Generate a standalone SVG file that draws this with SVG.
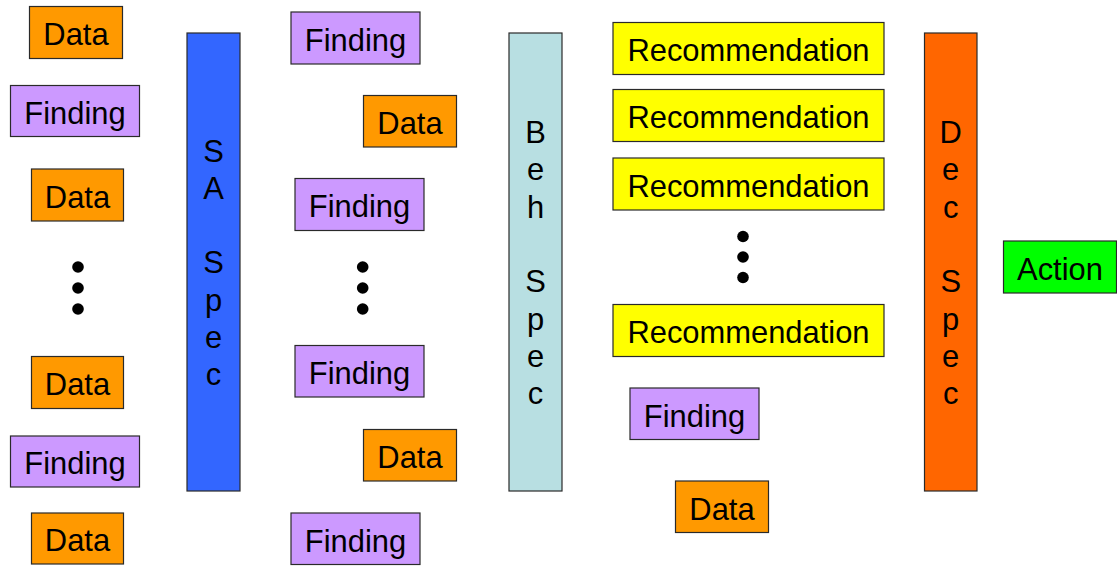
<svg xmlns="http://www.w3.org/2000/svg" width="1117" height="566" viewBox="0 0 1117 566">
<style>
rect{stroke:#2a2a2a;stroke-width:1.2}
.data{fill:#FF9900}.find{fill:#CC99FF}.rec{fill:#FFFF00}.act{fill:#00FF00}
.sa{fill:#3366FF}.beh{fill:#B8DFE2}.dec{fill:#FF6600}
text{font-family:"Liberation Sans",Arial,sans-serif;font-size:30.9px;fill:#000;text-anchor:middle}
.dot{fill:#000}
</style>
<rect width="1117" height="566" fill="#fff" style="stroke:none"/>
<!-- column 1 -->
<g id="c1-data1"><rect class="data" x="29.5" y="6.5" width="93" height="52"/><text x="76" y="45">Data</text></g>
<g id="c1-find1"><rect class="find" x="10.5" y="85.5" width="129" height="51"/><text x="75" y="123.5">Finding</text></g>
<g id="c1-data2"><rect class="data" x="31.5" y="169" width="92" height="52"/><text x="77.5" y="207.5">Data</text></g>
<g id="c1-dots"><circle class="dot" cx="78" cy="267" r="5.8"/><circle class="dot" cx="78" cy="288" r="5.8"/><circle class="dot" cx="78" cy="309" r="5.8"/></g>
<g id="c1-data3"><rect class="data" x="31.5" y="356.5" width="92" height="52"/><text x="77.5" y="395">Data</text></g>
<g id="c1-find2"><rect class="find" x="10.5" y="436" width="129" height="51"/><text x="75" y="474">Finding</text></g>
<g id="c1-data4"><rect class="data" x="31.5" y="513" width="92" height="51"/><text x="77.5" y="551">Data</text></g>
<!-- SA Spec -->
<g id="sa-spec"><rect class="sa" x="187" y="33" width="53" height="458"/>
<text x="213.5" y="161.5">S</text><text x="213.5" y="198.8">A</text><text x="213.5" y="273.4">S</text><text x="213.5" y="310.7">p</text><text x="213.5" y="348">e</text><text x="213.5" y="385.3">c</text></g>
<!-- column 2 -->
<g id="c2-find1"><rect class="find" x="291" y="12" width="129" height="52"/><text x="355.5" y="50.5">Finding</text></g>
<g id="c2-data1"><rect class="data" x="363.5" y="95.5" width="93" height="51.5"/><text x="410" y="134">Data</text></g>
<g id="c2-find2"><rect class="find" x="295" y="178.5" width="129" height="52"/><text x="359.5" y="217">Finding</text></g>
<g id="c2-dots"><circle class="dot" cx="362.7" cy="267" r="5.8"/><circle class="dot" cx="362.7" cy="288" r="5.8"/><circle class="dot" cx="362.7" cy="309" r="5.8"/></g>
<g id="c2-find3"><rect class="find" x="295" y="345.5" width="129" height="51.5"/><text x="359.5" y="384">Finding</text></g>
<g id="c2-data2"><rect class="data" x="363.5" y="429.5" width="93" height="51.5"/><text x="410" y="468">Data</text></g>
<g id="c2-find4"><rect class="find" x="291" y="513" width="129" height="51.5"/><text x="355.5" y="551.5">Finding</text></g>
<!-- Beh Spec -->
<g id="beh-spec"><rect class="beh" x="509" y="33" width="53" height="458"/>
<text x="535.5" y="142.7">B</text><text x="535.5" y="180">e</text><text x="535.5" y="217.5">h</text><text x="535.5" y="292.2">S</text><text x="535.5" y="329.6">p</text><text x="535.5" y="367">e</text><text x="535.5" y="404.4">c</text></g>
<!-- column 3 -->
<g id="rec1"><rect class="rec" x="613" y="22.5" width="271" height="52"/><text x="748.5" y="61">Recommendation</text></g>
<g id="rec2"><rect class="rec" x="613" y="89.5" width="271" height="52"/><text x="748.5" y="128">Recommendation</text></g>
<g id="rec3"><rect class="rec" x="613" y="158" width="271" height="52"/><text x="748.5" y="196.5">Recommendation</text></g>
<g id="c3-dots"><circle class="dot" cx="743" cy="236.5" r="5.8"/><circle class="dot" cx="743" cy="257" r="5.8"/><circle class="dot" cx="743" cy="277.5" r="5.8"/></g>
<g id="rec4"><rect class="rec" x="613" y="304.5" width="271" height="52"/><text x="748.5" y="343">Recommendation</text></g>
<g id="c3-find"><rect class="find" x="630" y="388" width="129" height="51.5"/><text x="694.5" y="426.5">Finding</text></g>
<g id="c3-data"><rect class="data" x="675.5" y="481" width="93" height="51.5"/><text x="722" y="519.5">Data</text></g>
<!-- Dec Spec -->
<g id="dec-spec"><rect class="dec" x="924.5" y="33" width="52.5" height="458"/>
<text x="950.7" y="142.7">D</text><text x="950.7" y="180">e</text><text x="950.7" y="217.5">c</text><text x="950.7" y="292.2">S</text><text x="950.7" y="329.6">p</text><text x="950.7" y="367">e</text><text x="950.7" y="404.4">c</text></g>
<!-- Action -->
<g id="action"><rect class="act" x="1003.5" y="241" width="113" height="52"/><text x="1060" y="279.5">Action</text></g>
<g id="connectors"></g>
</svg>
